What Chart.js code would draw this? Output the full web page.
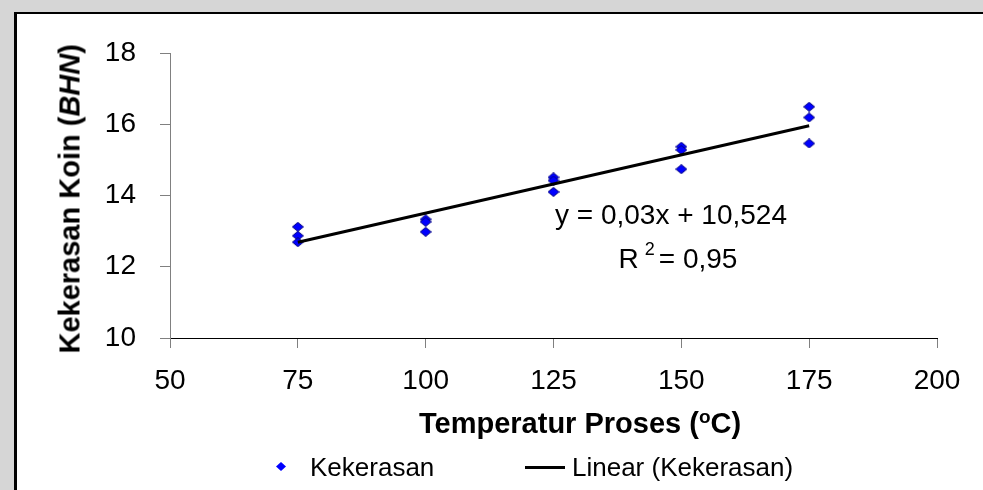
<!DOCTYPE html>
<html>
<head>
<meta charset="utf-8">
<script src="https://cdn.jsdelivr.net/npm/chart.js@4"></script>
<style>
  html, body { margin:0; padding:0; }
  body { width:983px; height:490px; overflow:hidden; background:#d6d6d6; position:relative;
         font-family:"Liberation Sans", Arial, sans-serif; color:#000; }
  #box { position:absolute; left:14px; top:12px; width:1000px; height:500px; background:#fff;
         border-left:3px solid #000; border-top:2px solid #000; }
  #c { position:absolute; left:0; top:0; }
  .txt { position:absolute; white-space:nowrap; line-height:1; }
  .eq { font-size:28px; text-align:center; width:300px; }
  .ttl { font-size:29px; font-weight:bold; }
  .leg { font-size:26px; }
</style>
</head>
<body>
<div id="box"></div>
<canvas id="c" width="983" height="490"></canvas>

<div class="txt ttl" id="ytitle" style="left:-80px; top:189px; width:300px; text-align:center; transform:rotate(-90deg); transform-origin:150px 14.5px;">Kekerasan Koin (<i>BHN</i>)</div>
<div class="txt ttl" style="left:419px; top:409px; width:300px; text-align:center;">Temperatur Proses (<span style="position:relative; top:-10px; font-size:19px;">o</span>C)</div>

<div class="txt eq" style="left:521px; top:201px;">y = 0,03x + 10,524</div>
<div class="txt eq" style="left:528px; top:245px;">R<span style="position:relative; top:-13px; font-size:18px; margin-left:6px; margin-right:4px;">2</span>= 0,95</div>

<div style="position:absolute; left:276px; top:462px; width:10px; height:9px; background:#0000ff; clip-path:polygon(50% 0,100% 50%,50% 100%,0 50%);"></div>
<div class="txt leg" style="left:310px; top:454px;">Kekerasan</div>
<div style="position:absolute; left:525px; top:466px; width:40px; height:3px; background:#000;"></div>
<div class="txt leg" style="left:572px; top:454px;">Linear (Kekerasan)</div>

<script>
// ---- data ----
const temperatures = [75, 100, 125, 150, 175];
const hardnessSample1 = [13.12, 13.33, 14.51, 15.37, 16.49];
const hardnessSample2 = [12.87, 13.26, 14.42, 15.28, 16.19];
const hardnessSample3 = [12.69, 12.98, 14.10, 14.74, 15.46];
const trendX = [75, 175];
const trendY = [12.69, 15.96];
const xTickValues = [50, 75, 100, 125, 150, 175, 200];
const yTickValues = [10, 12, 14, 16, 18];

const scatterPoints = [];
temperatures.forEach((t, i) => {
  scatterPoints.push({x: t, y: hardnessSample1[i]});
  scatterPoints.push({x: t, y: hardnessSample2[i]});
  scatterPoints.push({x: t, y: hardnessSample3[i]});
});
const trendPoints = trendX.map((x, i) => ({x: x, y: trendY[i]}));

// diamond marker
const diamond = document.createElement('canvas');
diamond.width = 12; diamond.height = 10;
const dctx = diamond.getContext('2d');
dctx.beginPath();
dctx.moveTo(6, 0.5); dctx.lineTo(11.5, 5); dctx.lineTo(6, 9.5); dctx.lineTo(0.5, 5); dctx.closePath();
dctx.fillStyle = '#0000ff'; dctx.fill();
dctx.strokeStyle = '#000080'; dctx.lineWidth = 1; dctx.stroke();

Chart.defaults.font.family = '"Liberation Sans", Arial, sans-serif';
Chart.defaults.color = '#000';

new Chart(document.getElementById('c'), {
  type: 'scatter',
  data: {
    datasets: [
      { label: 'Linear (Kekerasan)', type: 'line', data: trendPoints, borderColor: '#000', borderWidth: 3,
        pointRadius: 0, fill: false, tension: 0, order: 0 },
      { label: 'Kekerasan', data: scatterPoints, pointStyle: diamond, pointRadius: 6,
        backgroundColor: '#0000ff', borderColor: '#000080', order: 1 }
    ]
  },
  options: {
    responsive: false, animation: false, devicePixelRatio: 1,
    layout: { padding: { left: 0, right: 46, top: 53, bottom: 92 } },
    plugins: { legend: { display: false }, tooltip: { enabled: false } },
    scales: {
      x: {
        type: 'linear', min: 50, max: 200,
        afterBuildTicks: s => { s.ticks = xTickValues.map(v => ({value: v})); },
        ticks: { color: '#000', font: { size: 28 }, padding: 16, maxRotation: 0 },
        grid: { drawOnChartArea: false, color: '#808080', tickLength: 10 },
        border: { color: '#000', width: 1 },
        afterFit: s => { s.height = 60; }
      },
      y: {
        type: 'linear', min: 10, max: 18,
        afterBuildTicks: s => { s.ticks = yTickValues.map(v => ({value: v})); },
        ticks: { color: '#000', font: { size: 28 }, padding: 24 },
        grid: { drawOnChartArea: false, color: '#808080', tickLength: 10 },
        border: { color: '#808080', width: 1 },
        afterFit: s => { s.width = 170; }
      }
    }
  }
});
</script>
</body>
</html>
